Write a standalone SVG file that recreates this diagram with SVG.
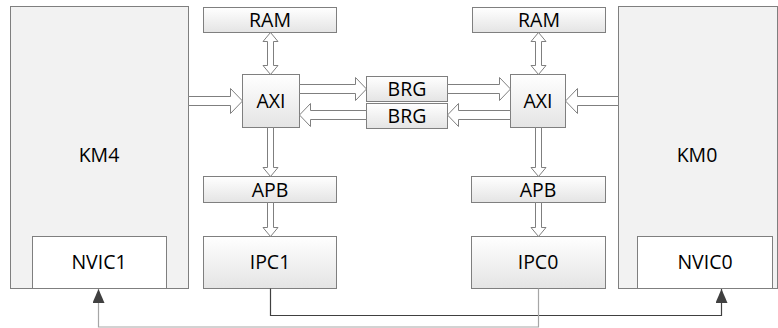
<svg xmlns="http://www.w3.org/2000/svg" width="778" height="328" viewBox="0 0 778 328">
<defs>
<linearGradient id="g" x1="0" y1="0" x2="0" y2="1">
<stop offset="0" stop-color="#ffffff"/>
<stop offset="1" stop-color="#e4e4e4"/>
</linearGradient>
<marker id="ah" viewBox="0 0 14 12" refX="14" refY="6" markerWidth="14" markerHeight="12" markerUnits="userSpaceOnUse" orient="auto">
<path d="M0,0 L14,6 L0,12 Z" fill="#404040"/>
</marker>
</defs>
<style>
.km{fill:#f2f2f2;stroke:#7f7f7f;stroke-width:1}
.bx{fill:url(#g);stroke:#7f7f7f;stroke-width:1}
.nv{fill:#ffffff;stroke:#7f7f7f;stroke-width:1}
.ar{fill:#ffffff;stroke:#7f7f7f;stroke-width:1}
text{font-family:"Open Sans","Liberation Sans",sans-serif;font-size:19.5px;fill:#000;text-anchor:middle}
.ln{fill:none;stroke-width:1.2}
</style>

<g id="KM4">
<rect class="km" x="10.5" y="6.5" width="178" height="282"/>
<text x="99" y="162">KM4</text>
</g>
<g id="NVIC1">
<rect class="nv" x="32.5" y="236.5" width="134" height="52"/>
<text x="99" y="269">NVIC1</text>
</g>
<g id="KM0">
<rect class="km" x="618.5" y="6.5" width="159" height="282"/>
<text x="697" y="162">KM0</text>
</g>
<g id="NVIC0">
<rect class="nv" x="637.5" y="236.5" width="135" height="52"/>
<text x="705" y="269">NVIC0</text>
</g>

<g id="RAM1">
<rect class="bx" x="203.5" y="7.5" width="133" height="25"/>
<text x="270" y="27">RAM</text>
</g>
<g id="RAM0">
<rect class="bx" x="472.5" y="7.5" width="133" height="25"/>
<text x="539" y="27">RAM</text>
</g>
<g id="AXI1">
<rect class="bx" x="242.5" y="74.5" width="57" height="53"/>
<text x="271" y="108">AXI</text>
</g>
<g id="AXI0">
<rect class="bx" x="510.5" y="74.5" width="55" height="53"/>
<text x="538" y="108">AXI</text>
</g>
<g id="BRG1">
<rect class="bx" x="366.5" y="76.5" width="81" height="25"/>
<text x="407" y="96">BRG</text>
</g>
<g id="BRG2">
<rect class="bx" x="366.5" y="103.5" width="81" height="25"/>
<text x="407" y="123">BRG</text>
</g>
<g id="APB1">
<rect class="bx" x="203.5" y="176.5" width="133" height="26"/>
<text x="270" y="196.5">APB</text>
</g>
<g id="APB0">
<rect class="bx" x="471.5" y="176.5" width="134" height="26"/>
<text x="538" y="196.5">APB</text>
</g>
<g id="IPC1">
<rect class="bx" x="203.5" y="236.5" width="133" height="52"/>
<text x="270" y="269">IPC1</text>
</g>
<g id="IPC0">
<rect class="bx" x="471.5" y="236.5" width="134" height="52"/>
<text x="538" y="269">IPC0</text>
</g>

<g id="connectors">
<polygon class="ar" points="188.5,96.5 230.5,96.5 230.5,88.5 242.5,101 230.5,113.5 230.5,105.5 188.5,105.5"/>
<polygon class="ar" points="299.5,84.5 355.5,84.5 355.5,77.5 366.5,89 355.5,100.5 355.5,93.5 299.5,93.5"/>
<polygon class="ar" points="447.5,84.5 499.5,84.5 499.5,77.5 510.5,89 499.5,100.5 499.5,93.5 447.5,93.5"/>
<polygon class="ar" points="510.5,110.5 458.5,110.5 458.5,103.5 447.5,115 458.5,126.5 458.5,119.5 510.5,119.5"/>
<polygon class="ar" points="366.5,110.5 310.5,110.5 310.5,103.5 299.5,115 310.5,126.5 310.5,119.5 366.5,119.5"/>
<polygon class="ar" points="618.5,96.5 577.5,96.5 577.5,88.5 565.5,101 577.5,113.5 577.5,105.5 618.5,105.5"/>
<polygon class="ar" points="270.5,32.5 278,41.5 273.5,41.5 273.5,65.5 278,65.5 270.5,74.5 263,65.5 267.5,65.5 267.5,41.5 263,41.5"/>
<polygon class="ar" points="538.5,32.5 546,41.5 541.5,41.5 541.5,65.5 546,65.5 538.5,74.5 531,65.5 535.5,65.5 535.5,41.5 531,41.5"/>
<polygon class="ar" points="267.5,127.5 273.5,127.5 273.5,167.5 278,167.5 270.5,176.5 263,167.5 267.5,167.5"/>
<polygon class="ar" points="535.5,127.5 541.5,127.5 541.5,167.5 546,167.5 538.5,176.5 531,167.5 535.5,167.5"/>
<polygon class="ar" points="267.5,202.5 273.5,202.5 273.5,227.5 278,227.5 270.5,236.5 263,227.5 267.5,227.5"/>
<polygon class="ar" points="535.5,202.5 541.5,202.5 541.5,227.5 546,227.5 538.5,236.5 531,227.5 535.5,227.5"/>
<path class="ln" stroke="#404040" d="M270.5,288.5 V315.5 H721.5 V289" marker-end="url(#ah)"/>
<path class="ln" stroke="#a6a6a6" d="M538.5,288.5 V327 H98.5 V289" marker-end="url(#ah)"/>
</g>
</svg>
